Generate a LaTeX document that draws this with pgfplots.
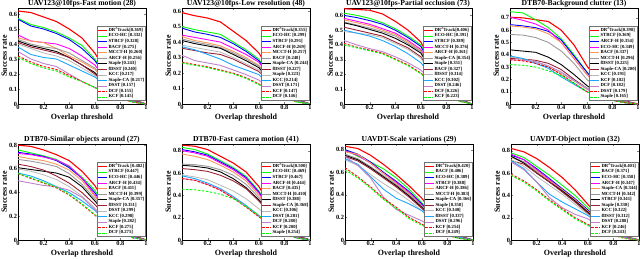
\documentclass[border=0pt]{standalone}
\usepackage{fontspec}
\setmainfont{Liberation Serif}
\usepackage{pgfplots}
\usepackage{pgfplotstable}
\pgfplotsset{compat=1.18}

\definecolor{cA}{rgb}{1,0,0}
\definecolor{cB}{rgb}{0,1,0}
\definecolor{cC}{rgb}{0,0,1}
\definecolor{cD}{rgb}{1,0,1}
\definecolor{cE}{rgb}{0.99,0.6,0.35}
\definecolor{cF}{rgb}{0.6,0.6,0.6}
\definecolor{cG}{rgb}{0,0,0}
\definecolor{cH}{rgb}{0.6,0.13,0.2}
\definecolor{cI}{rgb}{0.72,0.72,0.72}
\definecolor{cJ}{rgb}{0.1,0.65,1}
\definecolor{cK}{rgb}{0.75,0.5,0.8}

\pgfplotstableread[row sep=\\]{
x c1 c2 c3 c4 c5 c6 c7 c8 c9 c10 c11 c12 c13\\
0   .62 .57 .565 .46 .44 .43 .42 .41 .40 .38 .35 .32 .31\\
0.1 .61 .53 .52 .42 .42 .40 .39 .38 .37 .33 .30 .28 .27\\
0.2 .58 .51 .50 .41 .41 .38 .37 .36 .34 .31 .27 .25 .24\\
0.3 .55 .48 .47 .40 .37 .37 .35 .34 .32 .30 .25 .23 .22\\
0.4 .50 .44 .43 .37 .32 .34 .31 .31 .29 .26 .20 .19 .18\\
0.5 .44 .39 .37 .32 .28 .29 .26 .26 .24 .22 .15 .15 .15\\
0.6 .34 .30 .29 .26 .23 .24 .21 .20 .19 .18 .11 .11 .11\\
0.7 .20 .18 .17 .15 .14 .14 .12 .12 .11 .11 .07 .07 .07\\
0.8 .10 .09 .085 .075 .07 .07 .06 .06 .055 .05 .035 .035 .035\\
0.9 .03 .025 .024 .022 .02 .02 .018 .018 .016 .015 .012 .012 .012\\
1   0 0 0 0 0 0 0 0 0 0 0 0 0\\
}\tabA
\pgfplotstableread[row sep=\\]{
x c1 c2 c3 c4 c5 c6 c7 c8 c9 c10 c11 c12 c13\\
0   .59 .50 .49 .445 .435 .42 .41 .36 .38 .37 .315 .27 .265\\
0.1 .57 .48 .465 .43 .41 .40 .39 .345 .365 .35 .28 .255 .25\\
0.2 .555 .465 .45 .415 .395 .385 .375 .33 .35 .32 .265 .24 .235\\
0.3 .53 .45 .43 .40 .375 .365 .36 .32 .335 .29 .25 .22 .215\\
0.4 .47 .40 .39 .36 .34 .33 .32 .29 .30 .25 .22 .20 .195\\
0.5 .41 .35 .34 .32 .30 .29 .28 .25 .26 .22 .19 .17 .165\\
0.6 .33 .29 .28 .27 .25 .245 .235 .21 .22 .19 .155 .13 .125\\
0.7 .20 .17 .17 .16 .15 .15 .14 .13 .13 .11 .09 .08 .08\\
0.8 .10 .085 .085 .08 .075 .075 .07 .065 .065 .055 .045 .04 .04\\
0.9 .03 .025 .025 .024 .022 .022 .02 .019 .019 .016 .014 .012 .012\\
1   0 0 0 0 0 0 0 0 0 0 0 0 0\\
}\tabB
\pgfplotstableread[row sep=\\]{
x c1 c2 c3 c4 c5 c6 c7 c8 c9 c10 c11 c12 c13\\
0   .645 .615 .60 .58 .57 .555 .55 .52 .49 .50 .43 .41 .40\\
0.1 .64 .60 .585 .56 .55 .535 .53 .50 .48 .48 .40 .385 .38\\
0.2 .635 .58 .565 .54 .53 .515 .505 .48 .47 .46 .375 .365 .36\\
0.3 .61 .55 .54 .51 .50 .49 .48 .46 .45 .43 .355 .345 .34\\
0.4 .56 .51 .50 .48 .47 .46 .445 .42 .41 .39 .32 .305 .30\\
0.5 .50 .46 .45 .43 .42 .41 .40 .38 .37 .34 .28 .265 .26\\
0.6 .42 .40 .39 .37 .36 .355 .345 .32 .31 .28 .23 .21 .205\\
0.7 .25 .24 .23 .22 .21 .21 .20 .19 .18 .17 .14 .13 .13\\
0.8 .12 .115 .11 .105 .10 .10 .10 .09 .09 .08 .07 .065 .065\\
0.9 .035 .033 .032 .03 .03 .03 .029 .027 .026 .024 .02 .019 .019\\
1   0 0 0 0 0 0 0 0 0 0 0 0 0\\
}\tabC
\pgfplotstableread[row sep=\\]{
x c1 c2 c3 c4 c5 c6 c7 c8 c9 c10 c11 c12 c13\\
0   .705 .75 .645 .705 .635 .565 .44 .37 .38 .39 .36 .36 .32\\
0.1 .70 .74 .635 .68 .625 .56 .43 .365 .37 .37 .355 .35 .315\\
0.2 .685 .685 .62 .65 .61 .54 .42 .355 .34 .33 .345 .33 .30\\
0.3 .67 .62 .59 .60 .57 .50 .38 .33 .30 .29 .31 .30 .27\\
0.4 .60 .53 .52 .50 .50 .43 .32 .28 .25 .22 .26 .24 .23\\
0.5 .48 .40 .39 .37 .37 .33 .24 .20 .19 .16 .19 .17 .17\\
0.6 .31 .26 .26 .24 .24 .20 .15 .13 .13 .10 .12 .10 .10\\
0.7 .18 .14 .14 .13 .13 .11 .08 .07 .07 .06 .065 .06 .06\\
0.8 .08 .06 .06 .055 .055 .05 .04 .035 .035 .03 .03 .03 .03\\
0.9 .025 .02 .02 .018 .018 .016 .013 .012 .012 .01 .01 .01 .01\\
1   0 0 0 0 0 0 0 0 0 0 0 0 0\\
}\tabD
\pgfplotstableread[row sep=\\]{
x c1 c2 c3 c4 c5 c6 c7 c8 c9 c10 c11 c12 c13\\
0   .80 .76 .74 .73 .705 .68 .61 .64 .60 .565 .50 .56 .56\\
0.1 .79 .735 .725 .72 .685 .665 .595 .62 .58 .54 .48 .52 .525\\
0.2 .76 .71 .705 .70 .67 .645 .58 .59 .55 .50 .46 .48 .485\\
0.3 .72 .68 .67 .675 .64 .62 .565 .54 .51 .45 .45 .44 .445\\
0.4 .67 .62 .61 .625 .59 .56 .53 .48 .45 .40 .42 .38 .385\\
0.5 .58 .53 .52 .52 .50 .47 .45 .40 .37 .33 .36 .30 .305\\
0.6 .46 .42 .40 .38 .37 .35 .33 .30 .27 .25 .26 .21 .215\\
0.7 .28 .25 .24 .23 .22 .21 .20 .18 .16 .15 .15 .12 .12\\
0.8 .13 .12 .11 .11 .10 .10 .09 .085 .075 .07 .07 .06 .06\\
0.9 .04 .035 .033 .032 .03 .03 .028 .025 .022 .02 .02 .017 .017\\
1   0 0 0 0 0 0 0 0 0 0 0 0 0\\
}\tabE
\pgfplotstableread[row sep=\\]{
x c1 c2 c3 c4 c5 c6 c7 c8 c9 c10 c11 c12 c13\\
0   .85 .83 .81 .80 .77 .68 .67 .64 .585 .575 .55 .55 .455\\
0.1 .84 .81 .79 .78 .75 .675 .66 .63 .565 .55 .535 .535 .45\\
0.2 .81 .77 .76 .75 .72 .66 .645 .615 .54 .51 .50 .495 .435\\
0.3 .75 .71 .70 .69 .67 .63 .61 .58 .49 .46 .45 .445 .41\\
0.4 .69 .65 .64 .63 .61 .58 .55 .53 .44 .39 .38 .375 .37\\
0.5 .61 .57 .56 .55 .53 .50 .47 .46 .37 .31 .30 .295 .30\\
0.6 .48 .44 .43 .42 .40 .38 .36 .35 .28 .22 .21 .21 .22\\
0.7 .29 .26 .26 .25 .24 .23 .22 .21 .17 .13 .13 .13 .13\\
0.8 .14 .13 .12 .12 .11 .11 .10 .10 .08 .06 .06 .06 .06\\
0.9 .04 .037 .035 .034 .032 .03 .03 .028 .022 .018 .017 .017 .017\\
1   0 0 0 0 0 0 0 0 0 0 0 0 0\\
}\tabF
\pgfplotstableread[row sep=\\]{
x c1 c2 c3 c4 c5 c6 c7 c8 c9 c10 c11 c12 c13\\
0   .83 .80 .80 .79 .78 .76 .75 .74 .71 .72 .74 .64 .62\\
0.1 .81 .74 .76 .75 .76 .72 .71 .70 .66 .67 .66 .56 .55\\
0.2 .75 .69 .69 .68 .68 .65 .64 .63 .58 .56 .55 .47 .46\\
0.3 .67 .63 .60 .59 .59 .57 .56 .55 .50 .45 .38 .37 .36\\
0.4 .58 .55 .52 .51 .50 .49 .48 .47 .43 .37 .27 .29 .28\\
0.5 .48 .45 .43 .42 .41 .40 .39 .38 .35 .32 .22 .20 .19\\
0.6 .37 .33 .32 .31 .30 .30 .29 .28 .26 .26 .17 .14 .13\\
0.7 .22 .20 .19 .19 .18 .18 .17 .17 .16 .15 .10 .08 .08\\
0.8 .11 .10 .095 .09 .09 .09 .085 .08 .075 .07 .05 .04 .04\\
0.9 .035 .03 .03 .028 .028 .027 .026 .025 .023 .022 .016 .013 .012\\
1   0 0 0 0 0 0 0 0 0 0 0 0 0\\
}\tabG
\pgfplotstableread[row sep=\\]{
x c1 c2 c3 c4 c5 c6 c7 c8 c9 c10 c11 c12 c13\\
0   .82 .78 .76 .77 .74 .75 .75 .71 .72 .71 .70 .59 .58\\
0.1 .79 .74 .72 .72 .70 .70 .69 .68 .66 .64 .63 .53 .52\\
0.2 .73 .66 .64 .63 .62 .61 .60 .60 .57 .52 .52 .45 .44\\
0.3 .65 .58 .55 .54 .53 .52 .52 .52 .49 .41 .38 .36 .35\\
0.4 .56 .49 .46 .45 .45 .44 .44 .43 .41 .34 .29 .28 .27\\
0.5 .45 .40 .37 .36 .36 .35 .35 .34 .32 .28 .23 .20 .19\\
0.6 .32 .29 .27 .26 .26 .25 .25 .24 .23 .22 .19 .14 .13\\
0.7 .19 .17 .16 .15 .15 .15 .15 .14 .13 .13 .11 .08 .08\\
0.8 .09 .085 .08 .075 .075 .07 .07 .07 .065 .06 .055 .04 .04\\
0.9 .03 .025 .025 .023 .023 .022 .022 .021 .02 .018 .016 .012 .012\\
1   0 0 0 0 0 0 0 0 0 0 0 0 0\\
}\tabH

\pgfplotsset{
  s1/.style={cA, line width=1.1pt},
  s2/.style={cB, line width=0.9pt},
  s3/.style={cC, line width=0.9pt},
  s4/.style={cD, line width=0.9pt},
  s5/.style={cE, line width=0.9pt},
  s6/.style={cF, line width=0.9pt},
  s7/.style={cG, line width=0.9pt},
  s8/.style={cH, line width=0.9pt},
  s9/.style={cI, line width=0.8pt},
  s10/.style={cJ, line width=0.9pt},
  s11/.style={cK, line width=0.9pt},
  s12/.style={cA, line width=0.9pt, dash pattern=on 2.5pt off 1.5pt},
  s13/.style={cB, line width=0.9pt, dash pattern=on 2.5pt off 1.5pt},
  panel/.style={
    scale only axis, width=128bp, height=96bp, anchor=south west,
    xmin=0, xmax=1, ymin=0,
    xtick={0,0.2,0.4,0.6,0.8,1},
    tick align=inside, major tick length=2pt,
    ticklabel style={font=\fontsize{6.4}{6.4}\selectfont\bfseries},
    yticklabel style={inner xsep=0.8pt},
    xticklabel style={inner ysep=1.5pt},
    /pgf/number format/assume math mode=true,
    /pgf/number format/fixed,
    scaled ticks=false,
    label style={font=\fontsize{8}{8}\selectfont\bfseries},
    xlabel={Overlap threshold}, ylabel={Success rate},
    xlabel style={at={(axis description cs:0.5,-0.14)}, anchor=center},
    ylabel style={at={(axis description cs:-0.108,0.5)}, anchor=center},
    title style={font=\fontsize{7.7}{7.7}\selectfont\bfseries, inner sep=0.5pt},
    every axis title shift=0pt,
    axis line style={line width=0.4pt},
    legend style={at={(0.995,0.035)}, anchor=south east,
      font=\fontsize{4.7}{4.7}\selectfont\bfseries,
      draw=black!55, line width=0.3pt,
      inner xsep=0.5pt, inner ysep=0.5pt, row sep=-0.3pt,
      nodes={inner sep=0.55pt}},
    legend cell align=left,
    legend image code/.code={\draw[##1] plot coordinates {(0bp,0bp) (9bp,0bp)};},
  },
}
\newcommand{\curves}[1]{%
  \addplot[s1] table[x=x,y=c1]{#1};
  \addplot[s2] table[x=x,y=c2]{#1};
  \addplot[s3] table[x=x,y=c3]{#1};
  \addplot[s4] table[x=x,y=c4]{#1};
  \addplot[s5] table[x=x,y=c5]{#1};
  \addplot[s6] table[x=x,y=c6]{#1};
  \addplot[s7] table[x=x,y=c7]{#1};
  \addplot[s8] table[x=x,y=c8]{#1};
  \addplot[s9] table[x=x,y=c9]{#1};
  \addplot[s10] table[x=x,y=c10]{#1};
  \addplot[s11] table[x=x,y=c11]{#1};
  \addplot[s12] table[x=x,y=c12]{#1};
  \addplot[s13] table[x=x,y=c13]{#1};
}
\newcommand{\DR}{DR\textsuperscript{2}Track}

\begin{document}
\begin{tikzpicture}[x=1bp,y=1bp]
\useasboundingbox (0,0) rectangle (640,258);

\begin{axis}[panel, at={(18bp,154bp)}, ymax=0.64, ytick={0,0.1,...,0.6},
  title={UAV123@10fps-Fast motion (28)},
  legend entries={\DR[0.369], ECO-HC [0.332], STRCF [0.328], BACF [0.275], MCCT-H [0.260], ARCF-H [0.256], Staple [0.243], fDSST [0.240], KCC [0.217], Staple-CA [0.217], DSST [0.157], DCF [0.155], KCF [0.145]}]
\curves{\tabA}
\end{axis}

\begin{axis}[panel, at={(182bp,154bp)}, ymax=0.62, ytick={0,0.1,...,0.6},
  title={UAV123@10fps-Low resolution (48)},
  legend entries={\DR[0.355], ECO-HC [0.299], STRCF [0.291], ARCF-H [0.269], MCCT-H [0.257], BACF [0.248], Staple-CA [0.244], fDSST [0.227], Staple [0.223], KCC [0.214], DSST [0.171], KCF [0.147], DCF [0.146]}]
\curves{\tabB}
\end{axis}

\begin{axis}[panel, at={(344bp,154bp)}, ymax=0.65, ytick={0,0.1,...,0.6},
  title={UAV123@10fps-Partial occlusion (73)},
  legend entries={\DR[0.406], ECO-HC [0.391], STRCF [0.389], MCCT-H [0.376], ARCF-H [0.361], Staple-CA [0.354], Staple [0.351], BACF [0.327], fDSST [0.314], KCC [0.302], DSST [0.246], DCF [0.226], KCF [0.223]}]
\curves{\tabC}
\end{axis}

\begin{axis}[panel, at={(510bp,154bp)}, ymax=0.78, ytick={0,0.1,...,0.7},
  title={DTB70-Background clutter (13)},
  legend entries={\DR[0.398], STRCF [0.369], ARCF-H [0.354], ECO-HC [0.349], BACF [0.337], MCCT-H [0.296], fDSST [0.225], Staple-CA [0.200], KCC [0.191], KCF [0.182], DCF [0.182], DSST [0.179], Staple [0.165]}]
\curves{\tabD}
\end{axis}

\begin{axis}[panel, at={(18bp,18bp)}, ymax=0.81, ytick={0,0.2,...,0.8},
  title={DTB70-Similar objects around (27)},
  legend entries={\DR\ [0.482], STRCF [0.447], ECO-HC [0.446], ARCF-H [0.434], BACF [0.411], MCCT-H [0.399], Staple-CA [0.357], fDSST [0.351], DSST [0.299], KCC [0.298], Staple [0.282], KCF [0.275], DCF [0.275]}]
\curves{\tabE}
\end{axis}

\begin{axis}[panel, at={(182bp,18bp)}, ymax=0.86, ytick={0,0.2,...,0.8},
  title={DTB70-Fast camera motion (41)},
  legend entries={\DR[0.500], ECO-HC [0.469], STRCF [0.467], ARCF-H [0.444], BACF [0.435], MCCT-H [0.410], fDSST [0.388], Staple-CA [0.368], KCC [0.306], DSST [0.281], DCF [0.280], KCF [0.280], Staple [0.254]}]
\curves{\tabF}
\end{axis}

\begin{axis}[panel, at={(345bp,18bp)}, ymax=0.85, ytick={0,0.2,...,0.8},
  title={UAVDT-Scale variations (29)},
  legend entries={\DR[0.420], BACF [0.406], ECO-HC [0.389], STRCF [0.388], ARCF-H [0.386], MCCT-H [0.383], Staple-CA [0.366], Staple [0.358], KCC [0.340], fDSST [0.337], DSST [0.296], KCF [0.254], DCF [0.249]}]
\curves{\tabG}
\end{axis}

\begin{axis}[panel, at={(511bp,18bp)}, ymax=0.86, ytick={0,0.2,...,0.8},
  title={UAVDT-Object motion (32)},
  legend entries={\DR[0.401], BACF [0.371], ECO-HC [0.358], ARCF-H [0.347], Staple-CA [0.344], MCCT-H [0.342], STRCF [0.341], Staple [0.330], KCC [0.322], fDSST [0.312], DSST [0.288], KCF [0.246], DCF [0.243]}]
\curves{\tabH}
\end{axis}
\end{tikzpicture}
\end{document}
